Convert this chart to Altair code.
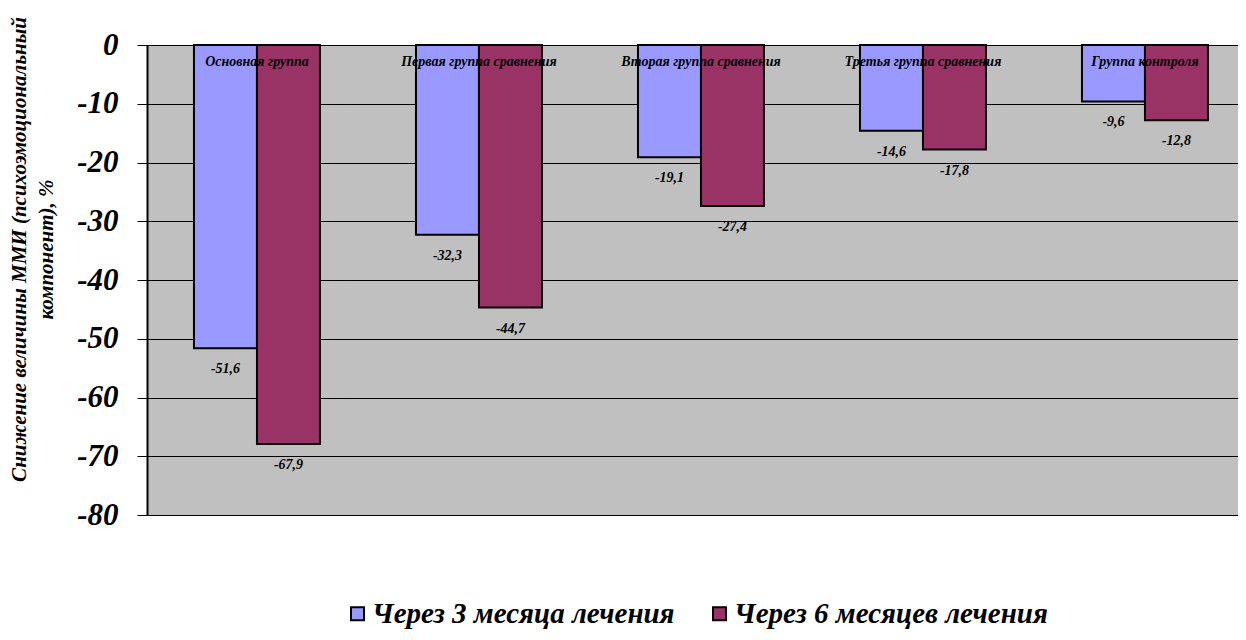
import altair as alt
import pandas as pd

categories = ["Основная группа", "Первая группа сравнения", "Вторая группа сравнения",
              "Третья группа сравнения", "Группа контроля"]
series = ["Через 3 месяца лечения", "Через 6 месяцев лечения"]
values_3m = [-51.6, -32.3, -19.1, -14.6, -9.6]
values_6m = [-67.9, -44.7, -27.4, -17.8, -12.8]
colors = ["#9999FF", "#993366"]

rows = []
for c, a, b in zip(categories, values_3m, values_6m):
    rows.append({"cat": c, "series": series[0], "value": a})
    rows.append({"cat": c, "series": series[1], "value": b})
df = pd.DataFrame(rows)
cat_df = pd.DataFrame({"cat": categories})

FONT = "Liberation Serif"

x_enc = alt.X("cat:N", sort=categories, axis=None,
              scale=alt.Scale(paddingInner=0.4324, paddingOuter=0.1734, align=0.61))
xo_enc = alt.XOffset("series:N", sort=series, scale=alt.Scale(paddingInner=0, paddingOuter=0))
y_scale = alt.Scale(domain=[-80, 0], nice=False)

bars = alt.Chart(df).mark_bar(stroke="black", strokeWidth=2).encode(
    x=x_enc,
    xOffset=xo_enc,
    y=alt.Y("value:Q", scale=y_scale,
            axis=alt.Axis(values=list(range(-80, 1, 10)),
                          labelExpr="datum.value == 0 ? '0' : '-' + abs(datum.value)",
                          labelFont=FONT, labelFontSize=31, labelFontWeight="bold",
                          labelFontStyle="italic", labelColor="black", labelPadding=19,
                          tickSize=10, tickColor="black", domainColor="black", domainWidth=2,
                          grid=True, gridColor="black", gridWidth=1,
                          title=["Снижение величины ММИ (психоэмоциональный", "компонент), %"],
                          titleFont=FONT, titleFontSize=21, titleFontWeight="bold",
                          titleFontStyle="italic", titleColor="black", titleAngle=-90,
                          titleAlign="center", titleBaseline="top", titleLineHeight=27,
                          titleX=-139, titleY=204)),
    color=alt.Color("series:N", sort=series,
                    scale=alt.Scale(domain=series, range=colors),
                    legend=alt.Legend(title=None, orient="none", direction="horizontal",
                                      legendX=196, legendY=554,
                                      symbolType="square", symbolSize=169,
                                      symbolStrokeColor="black", symbolStrokeWidth=2,
                                      symbolOpacity=1,
                                      labelFont=FONT, labelFontSize=29, labelFontWeight="bold",
                                      labelFontStyle="italic", labelColor="black",
                                      labelOffset=0, columnPadding=30, labelLimit=600)),
)

value_labels = alt.Chart(df).transform_calculate(
    label="replace(toString(datum.value), '.', ',')"
).mark_text(dy=21, font=FONT, fontSize=14, fontWeight="bold", fontStyle="italic",
            color="black", baseline="middle").encode(
    x=x_enc, xOffset=xo_enc, y=alt.Y("value:Q", scale=y_scale), text="label:N")

cat_labels = alt.Chart(cat_df).mark_text(font=FONT, fontSize=14, fontWeight="bold",
                                          fontStyle="italic", color="black",
                                          baseline="middle").encode(
    x=x_enc, y=alt.value(17), text="cat:N")

chart = alt.layer(bars, value_labels, cat_labels).properties(
    width=1091, height=470,
    autosize=alt.AutoSizeParams(type="none"),
    padding={"left": 139, "top": 37, "right": 0, "bottom": 117},
).configure_view(fill="#C0C0C0", stroke=None)

chart.save("out.html", embed_options={"renderer": "svg", "actions": False})
